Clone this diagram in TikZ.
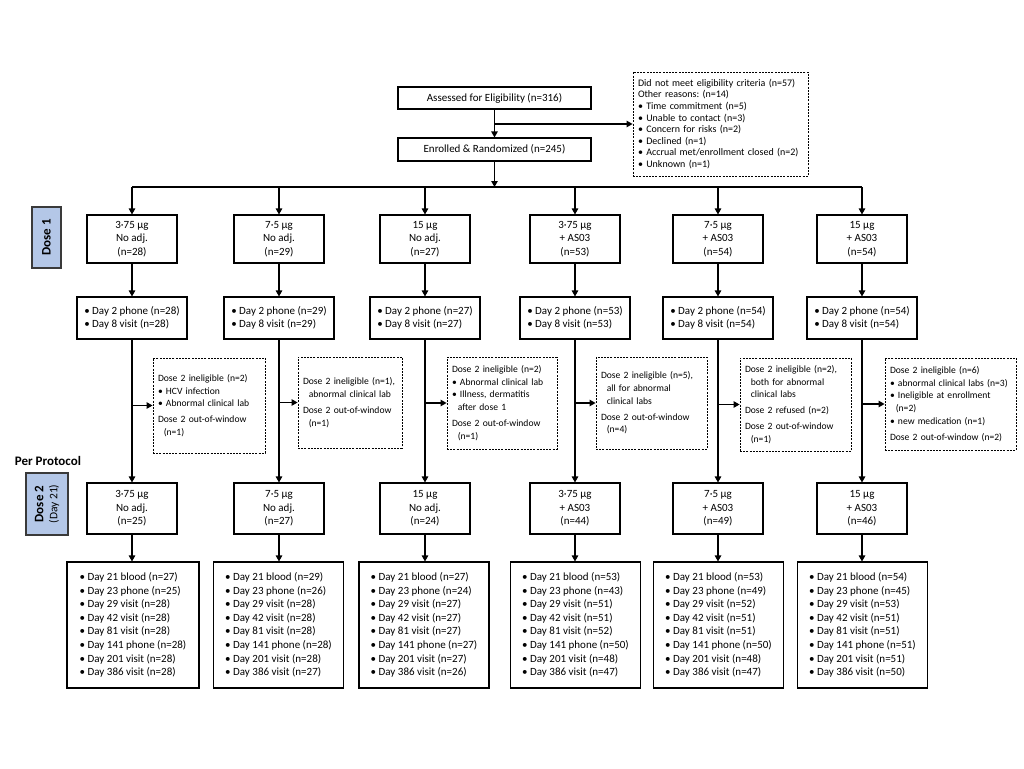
\documentclass[tikz,border=0pt]{standalone}
\usepackage{fontspec}
\setmainfont{Carlito}
\usetikzlibrary{arrows.meta}
\definecolor{lblue}{HTML}{B4C7E7}
\definecolor{dgray}{HTML}{3A3A3A}
\frenchspacing
\newcommand\finlist[8]{• Day 21 blood (n=#1)\\• Day 23 phone (n=#2)\\• Day 29 visit (n=#3)\\• Day 42 visit (n=#4)\\• Day 81 visit (n=#5)\\• Day 141 phone (n=#6)\\• Day 201 visit (n=#7)\\• Day 386 visit (n=#8)}
\newcommand\ind{\hspace*{0.6em}}
\begin{document}
\begin{tikzpicture}[x=1pt,y=-1pt,
  box/.style={draw, line width=1.1pt, fill=white, inner sep=0pt, align=center,
    font=\fontsize{11}{13.5}\selectfont},
  grp/.style={box, minimum width=90, minimum height=48},
  dtwo/.style={box, align=left, minimum width=110, minimum height=42},
  fin/.style={box, align=left, minimum width=130, minimum height=126,
    font=\fontsize{11}{13.6}\selectfont},
  exbox/.style={draw, line width=0.9pt, dash pattern=on 2pt off 1.2pt, fill=white,
    inner xsep=5pt, inner ysep=0pt, align=left,
    font=\fontsize{9.6}{12.8}\selectfont},
  lab/.style={draw=dgray, line width=1.4pt, fill=lblue, inner sep=0pt, align=center,
    rotate=90, font=\fontsize{13}{14}\selectfont\bfseries},
  conn/.style={line width=1.1pt},
  arr/.style={conn, -{Triangle[length=6pt,width=6.5pt]}}
]
\useasboundingbox (0,0) rectangle (1024,768);

% top
\node[box, minimum width=193, minimum height=22] (ass) at (494.5,98) {Assessed for Eligibility (n=316)};
\node[box, minimum width=193, minimum height=23] (enr) at (494.5,149.5) {Enrolled \& Randomized (n=245)};
\node[exbox, text width=165, minimum height=104, font=\fontsize{10}{11.6}\selectfont] (exc) at (720.5,124)
  {Did not meet eligibility criteria (n=57)\\Other reasons: (n=14)\\• Time commitment (n=5)\\• Unable to contact (n=3)\\• Concern for risks (n=2)\\• Declined (n=1)\\• Accrual met/enrollment closed (n=2)\\• Unknown (n=1)};
\coordinate (bus) at (494.5,187);

% labels
\node[lab, minimum width=61, minimum height=29] (L1) at (46.5,237.5) {Dose 1};
\node[font=\fontsize{13}{14}\selectfont\bfseries] (pp) at (48,461) {Per Protocol};
\node[lab, minimum width=62, minimum height=42] (L2) at (47,504)
  {Dose 2\\{\mdseries\fontsize{11.5}{12}\selectfont (Day 21)}};

% dose 1 groups
\node[grp] (d1a) at (132,239) {3·75 µg\\No adj.\\(n=28)};
\node[grp] (d1b) at (279,239) {7·5 µg\\No adj.\\(n=29)};
\node[grp] (d1c) at (425,239) {15 µg\\No adj.\\(n=27)};
\node[grp] (d1d) at (575,239) {3·75 µg\\+ AS03\\(n=53)};
\node[grp] (d1e) at (718,239) {7·5 µg\\+ AS03\\(n=54)};
\node[grp] (d1f) at (862,239) {15 µg\\+ AS03\\(n=54)};

% day 2 / day 8
\node[dtwo] (dta) at (132,318) {• Day 2 phone (n=28)\\• Day 8 visit (n=28)};
\node[dtwo] (dtb) at (279,318) {• Day 2 phone (n=29)\\• Day 8 visit (n=29)};
\node[dtwo] (dtc) at (425,318) {• Day 2 phone (n=27)\\• Day 8 visit (n=27)};
\node[dtwo] (dtd) at (575,318) {• Day 2 phone (n=53)\\• Day 8 visit (n=53)};
\node[dtwo] (dte) at (718,318) {• Day 2 phone (n=54)\\• Day 8 visit (n=54)};
\node[dtwo] (dtf) at (862,318) {• Day 2 phone (n=54)\\• Day 8 visit (n=54)};

% exclusions
\node[exbox, text width=102, minimum height=95] (exa) at (209,405.5)
  {Dose 2 ineligible (n=2)\\• HCV infection\\• Abnormal clinical lab\\[3pt]Dose 2 out-of-window\\\ind(n=1)};
\node[exbox, text width=94, minimum height=91] (exb) at (350,402.5)
  {Dose 2 ineligible (n=1),\\\ind abnormal clinical lab\\[3pt]Dose 2 out-of-window\\\ind(n=1)};
\node[exbox, text width=100, minimum height=92] (exc3) at (502,403)
  {Dose 2 ineligible (n=2)\\• Abnormal clinical lab\\• Illness, dermatitis\\\ind after dose 1\\[3pt]Dose 2 out-of-window\\\ind(n=1)};
\node[exbox, text width=101, minimum height=92] (exd) at (651.5,403)
  {Dose 2 ineligible (n=5),\\\ind all for abnormal\\\ind clinical labs\\[3pt]Dose 2 out-of-window\\\ind(n=4)};
\node[exbox, text width=101, minimum height=93] (exe) at (795.5,404.5)
  {Dose 2 ineligible (n=2),\\\ind both for abnormal\\\ind clinical labs\\[3pt]Dose 2 refused (n=2)\\[3pt]Dose 2 out-of-window\\\ind(n=1)};
\node[exbox, text width=121, minimum height=92] (exf) at (950.5,404)
  {Dose 2 ineligible (n=6)\\• abnormal clinical labs (n=3)\\• Ineligible at enrollment\\\ind(n=2)\\• new medication (n=1)\\[3pt]Dose 2 out-of-window (n=2)};

% dose 2 groups
\node[grp, minimum height=51] (d2a) at (132,508.5) {3·75 µg\\No adj.\\(n=25)};
\node[grp, minimum height=51] (d2b) at (279,508.5) {7·5 µg\\No adj.\\(n=27)};
\node[grp, minimum height=51] (d2c) at (425,508.5) {15 µg\\No adj.\\(n=24)};
\node[grp, minimum height=51] (d2d) at (575,508.5) {3·75 µg\\+ AS03\\(n=44)};
\node[grp, minimum height=51] (d2e) at (718,508.5) {7·5 µg\\+ AS03\\(n=49)};
\node[grp, minimum height=51] (d2f) at (862,508.5) {15 µg\\+ AS03\\(n=46)};

% follow-up
\node[fin, minimum width=132] (fa) at (133,625) {\finlist{27}{25}{28}{28}{28}{28}{28}{28}};
\node[fin] (fb) at (278.5,625) {\finlist{29}{26}{28}{28}{28}{28}{28}{27}};
\node[fin] (fc) at (424,625) {\finlist{27}{24}{27}{27}{27}{27}{27}{26}};
\node[fin] (fd) at (575.5,625) {\finlist{53}{43}{51}{51}{52}{50}{48}{47}};
\node[fin] (fe) at (718.5,625) {\finlist{53}{49}{52}{51}{51}{50}{48}{47}};
\node[fin] (ff) at (862.5,625) {\finlist{54}{45}{53}{51}{51}{51}{51}{50}};

% connectors
\draw[arr] (ass) -- (enr);
\draw[arr] (ass.south |- exc.west) -- (exc.west);
\draw[arr] (enr) -- (bus);
\draw[conn] (d1a.north |- bus) -- (d1f.north |- bus);
\foreach \c/\e in {a/exa,b/exb,c/exc3,d/exd,e/exe,f/exf}{
  \draw[arr] (d1\c.north |- bus) -- (d1\c);
  \draw[arr] (d1\c) -- (dt\c);
  \draw[arr] (dt\c) -- (d2\c);
  \draw[arr] (dt\c.south |- \e.west) -- (\e.west);
  \draw[arr] (d2\c) -- (d2\c.south |- f\c.north);
}
\end{tikzpicture}
\end{document}
